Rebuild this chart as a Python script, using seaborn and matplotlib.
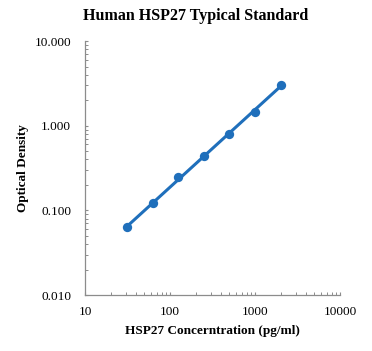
import numpy as np
import pandas as pd
import matplotlib
matplotlib.use("Agg")
import matplotlib.pyplot as plt
from matplotlib.ticker import FixedLocator, FormatStrFormatter, LogLocator, NullFormatter
import seaborn as sns

# standard curve values
concentration = [31.25, 62.5, 125, 250, 500, 1000, 2000]
optical_density = [0.063, 0.122, 0.245, 0.44, 0.80, 1.45, 3.05]
x_ticks = [10, 100, 1000, 10000]
y_ticks = [0.01, 0.1, 1, 10]

BLUE = "#1f6fbb"
AXIS = "#8c8c8c"

sns.set_style("white")
plt.rcParams["font.family"] = ["Liberation Serif", "DejaVu Serif"]
plt.rcParams["text.color"] = "black"
plt.rcParams["axes.labelcolor"] = "black"
plt.rcParams["xtick.labelcolor"] = "black"
plt.rcParams["ytick.labelcolor"] = "black"

df = pd.DataFrame({"conc": concentration, "od": optical_density})

# power trendline (straight in log-log)
slope, intercept = np.polyfit(np.log10(df.conc), np.log10(df.od), 1)
fit = pd.DataFrame({"conc": df.conc})
fit["od"] = 10 ** (intercept + slope * np.log10(fit.conc))

fig = plt.figure(figsize=(3.72, 3.51), dpi=100)
ax = fig.add_axes([0.2285, 0.1595, 0.6855, 0.7235])

sns.lineplot(data=fit, x="conc", y="od", ax=ax, color=BLUE, linewidth=2.2)
sns.scatterplot(data=df, x="conc", y="od", ax=ax, color=BLUE, s=45,
                edgecolor=BLUE, linewidth=0, zorder=3)

ax.set_xscale("log")
ax.set_yscale("log")
ax.set_xlim(10, 10000)
ax.set_ylim(0.01, 10)

ax.xaxis.set_major_locator(FixedLocator(x_ticks))
ax.yaxis.set_major_locator(FixedLocator(y_ticks))
ax.xaxis.set_major_formatter(FormatStrFormatter("%d"))
ax.yaxis.set_major_formatter(FormatStrFormatter("%.3f"))
ax.xaxis.set_minor_locator(LogLocator(base=10, subs=np.arange(2, 10)))
ax.yaxis.set_minor_locator(LogLocator(base=10, subs=np.arange(2, 10)))
ax.xaxis.set_minor_formatter(NullFormatter())
ax.yaxis.set_minor_formatter(NullFormatter())

for side in ["top", "right"]:
    ax.spines[side].set_visible(False)
for side in ["left", "bottom"]:
    ax.spines[side].set_color(AXIS)
    ax.spines[side].set_linewidth(0.9)

ax.tick_params(which="major", direction="in", length=2.5, width=0.8, color=AXIS,
               labelsize=9.5, labelcolor="black", left=True, bottom=True)
ax.tick_params(axis="y", which="major", pad=10)
ax.tick_params(axis="x", which="major", pad=8)
ax.tick_params(which="minor", direction="in", length=2.5, width=0.7, color=AXIS,
               left=True, bottom=True)

ax.set_xlabel("HSP27 Concerntration (pg/ml)", fontsize=9.5, fontweight="bold", labelpad=5)
ax.set_ylabel("Optical Density", fontsize=9.5, fontweight="bold", labelpad=4)
fig.suptitle("Human HSP27 Typical Standard", x=0.525, y=0.955, fontsize=11.5,
             fontweight="bold", va="center")

fig.savefig("out.png", dpi=100)
